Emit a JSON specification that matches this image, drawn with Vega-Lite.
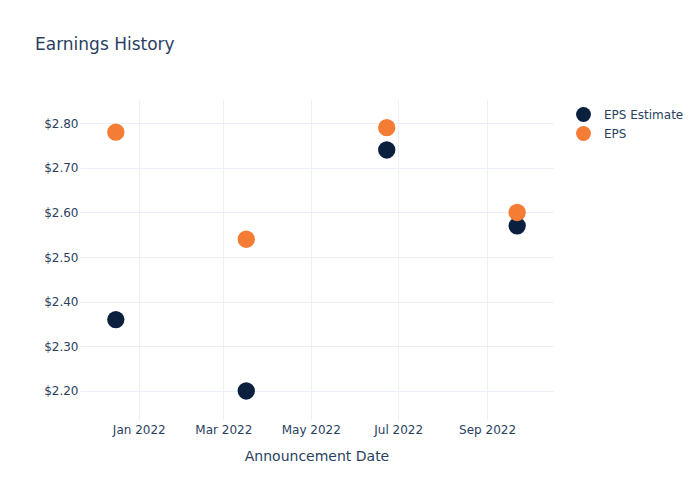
{
  "$schema": "https://vega.github.io/schema/vega-lite/v6.json",
  "width": 473,
  "height": 320,
  "autosize": {"type": "none"},
  "padding": {"left": 80, "top": 100, "right": 147, "bottom": 80},
  "background": "white",
  "title": {
    "text": "Earnings History",
    "anchor": "start",
    "frame": "group",
    "dx": -45,
    "offset": 46,
    "font": "DejaVu Sans",
    "fontSize": 17,
    "fontWeight": "normal",
    "color": "#2a3f5f"
  },
  "config": {
    "view": {"stroke": null},
    "font": "DejaVu Sans"
  },
  "data": {
    "values": [
      {"date": "2021-12-16T00:00:00", "value": 2.36, "series": "EPS Estimate"},
      {"date": "2022-03-17T00:00:00", "value": 2.20, "series": "EPS Estimate"},
      {"date": "2022-06-23T00:00:00", "value": 2.74, "series": "EPS Estimate"},
      {"date": "2022-09-22T00:00:00", "value": 2.57, "series": "EPS Estimate"},
      {"date": "2021-12-16T00:00:00", "value": 2.78, "series": "EPS"},
      {"date": "2022-03-17T00:00:00", "value": 2.54, "series": "EPS"},
      {"date": "2022-06-23T00:00:00", "value": 2.79, "series": "EPS"},
      {"date": "2022-09-22T00:00:00", "value": 2.60, "series": "EPS"}
    ]
  },
  "mark": {"type": "point", "filled": true, "opacity": 1, "size": 300, "shape": "circle"},
  "encoding": {
    "x": {
      "field": "date",
      "type": "temporal",
      "scale": {
        "nice": false,
        "domain": [
          {"year": 2021, "month": 11, "date": 21},
          {"year": 2022, "month": 10, "date": 17}
        ]
      },
      "axis": {
        "title": "Announcement Date",
        "titleFont": "DejaVu Sans",
        "titleFontSize": 14,
        "titleFontWeight": "normal",
        "titleColor": "#2a3f5f",
        "titlePadding": 14,
        "values": [
          {"year": 2022, "month": 1, "date": 1},
          {"year": 2022, "month": 3, "date": 1},
          {"year": 2022, "month": 5, "date": 1},
          {"year": 2022, "month": 7, "date": 1},
          {"year": 2022, "month": 9, "date": 1}
        ],
        "format": "%b %Y",
        "labelFont": "DejaVu Sans",
        "labelFontSize": 12,
        "labelColor": "#2a3f5f",
        "labelPadding": 4,
        "ticks": false,
        "domain": false,
        "grid": true,
        "gridColor": "#ebf0f8",
        "gridOpacity": 1,
        "gridWidth": 1
      }
    },
    "y": {
      "field": "value",
      "type": "quantitative",
      "scale": {"domain": [2.135, 2.852], "nice": false, "zero": false},
      "axis": {
        "title": null,
        "values": [2.2, 2.3, 2.4, 2.5, 2.6, 2.7, 2.8],
        "format": "$.2f",
        "labelFont": "DejaVu Sans",
        "labelFontSize": 12,
        "labelColor": "#2a3f5f",
        "labelPadding": 2,
        "ticks": false,
        "domain": false,
        "grid": true,
        "gridColor": "#ebf0f8",
        "gridOpacity": 1,
        "gridWidth": 1
      }
    },
    "color": {
      "field": "series",
      "type": "nominal",
      "sort": ["EPS Estimate", "EPS"],
      "scale": {"domain": ["EPS Estimate", "EPS"], "range": ["#0b1f3f", "#f47c35"]},
      "legend": {
        "title": null,
        "orient": "none",
        "legendX": 496,
        "legendY": 7,
        "symbolType": "circle",
        "symbolSize": 220,
        "symbolStrokeWidth": 0,
        "labelFont": "DejaVu Sans",
        "labelFontSize": 12,
        "labelColor": "#2a3f5f",
        "rowPadding": 4,
        "labelOffset": 13
      }
    },
    "order": {"field": "series", "sort": "descending"}
  }
}
